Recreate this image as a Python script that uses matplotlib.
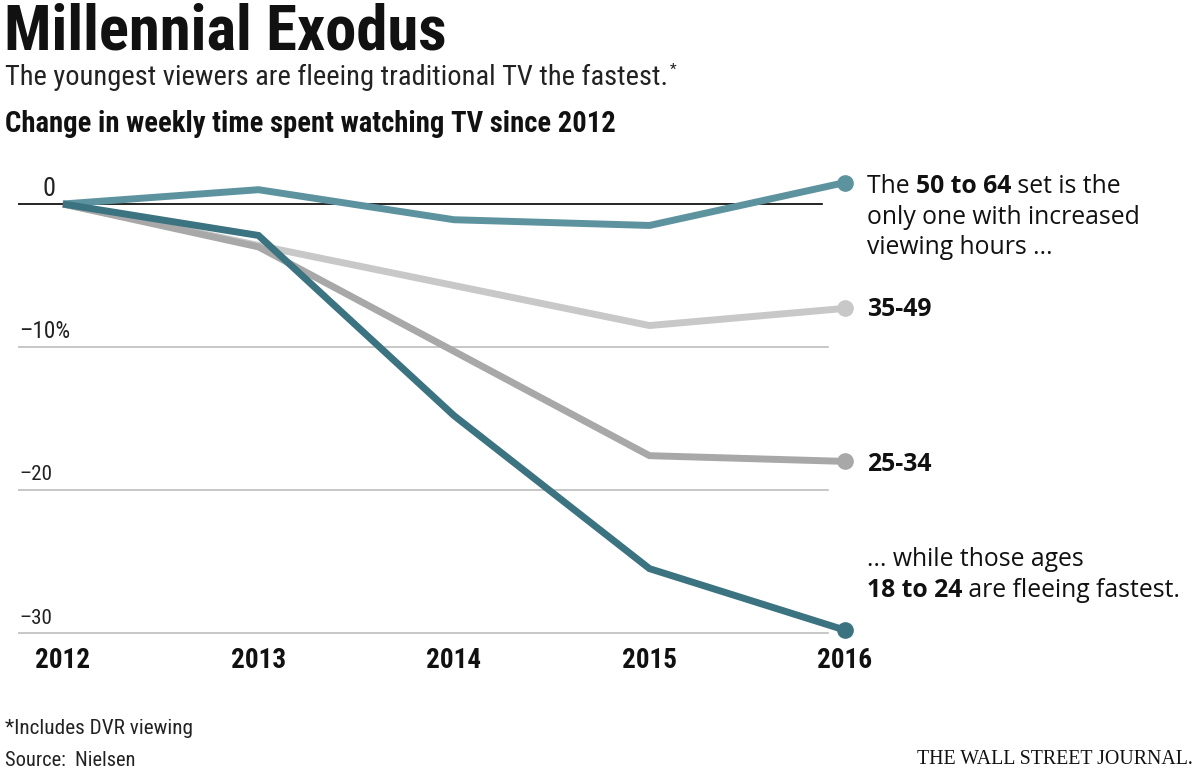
import matplotlib
matplotlib.use('Agg')
import matplotlib.pyplot as plt

# data (percent change since 2012)
years = [2012, 2013, 2014, 2015, 2016]
age_50_64 = [0, 1.0, -1.1, -1.5, 1.5]
age_35_49 = [0, -2.9, -5.7, -8.5, -7.3]
age_25_34 = [0, -3.0, -10.3, -17.6, -18.0]
age_18_24 = [0, -2.2, -14.8, -25.5, -29.8]

ytick_vals = [0, -10, -20, -30]
ytick_labels = ['0', '\u201310%', '\u201320', '\u201330']

narrow = ['Roboto Condensed', 'Liberation Sans Narrow', 'Roboto', 'DejaVu Sans']
wide = ['Open Sans', 'DejaVu Sans']

W, H = 1200, 773
fig = plt.figure(figsize=(12, 7.73), dpi=100)
renderer = fig.canvas.get_renderer()

def px(x, y):
    # pixel (from top-left) to figure fraction
    return x / W, 1 - y / H

def fit_text(x, y, s, width, size=20, ha='left', **kw):
    # put a text and scale its size so it spans about `width` pixels
    t = fig.text(*px(x, y), s, fontsize=size, ha=ha, va='center', **kw)
    w = t.get_window_extent(renderer).width
    t.set_fontsize(size * width / w)
    return t

# axes placed so 2012 -> 63px, 2016 -> 845px, 0 -> 204px, -30 -> 633px
ax_l, ax_r, ax_t, ax_b = 18, 850, 170, 650
ax = fig.add_axes([ax_l / W, 1 - ax_b / H, (ax_r - ax_l) / W, (ax_b - ax_t) / H])
xs = (845 - 63) / 4.0
ys = (633 - 204) / 30.0
ax.set_xlim(2012 - (63 - ax_l) / xs, 2016 + (ax_r - 845) / xs)
ax.set_ylim(-30 - (ax_b - 633) / ys, (204 - ax_t) / ys)
ax.axis('off')

x0 = ax.get_xlim()[0]
for v in ytick_vals:
    if v == 0:
        ax.plot([x0, 2012 + (822 - 63) / xs], [v, v], color='black', lw=1.2, zorder=1)
    else:
        ax.plot([x0, 2012 + (828 - 63) / xs], [v, v], color='#bdbdbd', lw=1.2, zorder=1)

series = [
    (age_35_49, '#c8c8c8'),
    (age_25_34, '#a8a8a8'),
    (age_50_64, '#5d939f'),
    (age_18_24, '#3b7380'),
]
for vals, col in series:
    ax.plot(years, vals, color=col, lw=5, solid_capstyle='butt', solid_joinstyle='miter', zorder=3)
    ax.plot(years[-1], vals[-1], 'o', color=col, ms=11, clip_on=False, zorder=4)

# y tick labels above gridlines
for v, lab in zip(ytick_vals, ytick_labels):
    ypix = 204 - v * ys - 15
    if v == 0:
        fit_text(56, ypix, lab, 13, ha='right', family=narrow, color='#222222')
    elif v == -10:
        fit_text(19, ypix, lab, 51, family=narrow, color='#222222')
    else:
        fit_text(19, ypix, lab, 33, family=narrow, color='#222222')

# x tick labels
for yr in years:
    xpix = 63 + (yr - 2012) * xs
    fit_text(xpix, 660, str(yr), 55, ha='center', family=narrow, fontweight='bold',
             color='#111111')

# titles
fit_text(4, 33, 'Millennial Exodus', 443, fontweight='bold', family=narrow, color='#111111')
sub = fit_text(5, 77, 'The youngest viewers are fleeing traditional TV the fastest.', 660,
               family=narrow, color='#222222')
sub_end = sub.get_window_extent(renderer).x1
fig.text(*px(sub_end + 2, 70), '*', fontsize=11, family=narrow, va='center', ha='left',
         color='#222222')
fit_text(5, 124, 'Change in weekly time spent watching TV since 2012', 607,
         fontweight='bold', family=narrow, color='#111111')

# footer
fit_text(5, 728, '*Includes DVR viewing', 188, family=narrow, color='#222222')
fit_text(5, 760, 'Source:  Nielsen', 130, family=narrow, color='#222222')
fit_text(1193, 760, 'THE WALL STREET JOURNAL.', 275, ha='right',
         family=['Liberation Serif', 'DejaVu Serif'], color='#111111')

def rich_line(x, y, pieces, size=17.8):
    # draw pieces of (text, bold) one after another on a baseline
    cur = x
    for s, bold in pieces:
        t = fig.text(cur / W, 1 - y / H, s, fontsize=size, family=wide,
                     fontweight='bold' if bold else 'normal', va='baseline', ha='left',
                     color='#111111')
        cur += t.get_window_extent(renderer).width

rich_line(867, 193, [('The ', False), ('50 to 64', True), (' set is the', False)])
rich_line(867, 224, [('only one with increased', False)])
rich_line(867, 254, [('viewing hours ...', False)])
rich_line(867, 316, [('35-49', True)])
rich_line(867, 471, [('25-34', True)])
rich_line(867, 566, [('... while those ages', False)])
rich_line(867, 597, [('18 to 24', True), (' are fleeing fastest.', False)])

fig.savefig('out.png', dpi=100, facecolor='white')
